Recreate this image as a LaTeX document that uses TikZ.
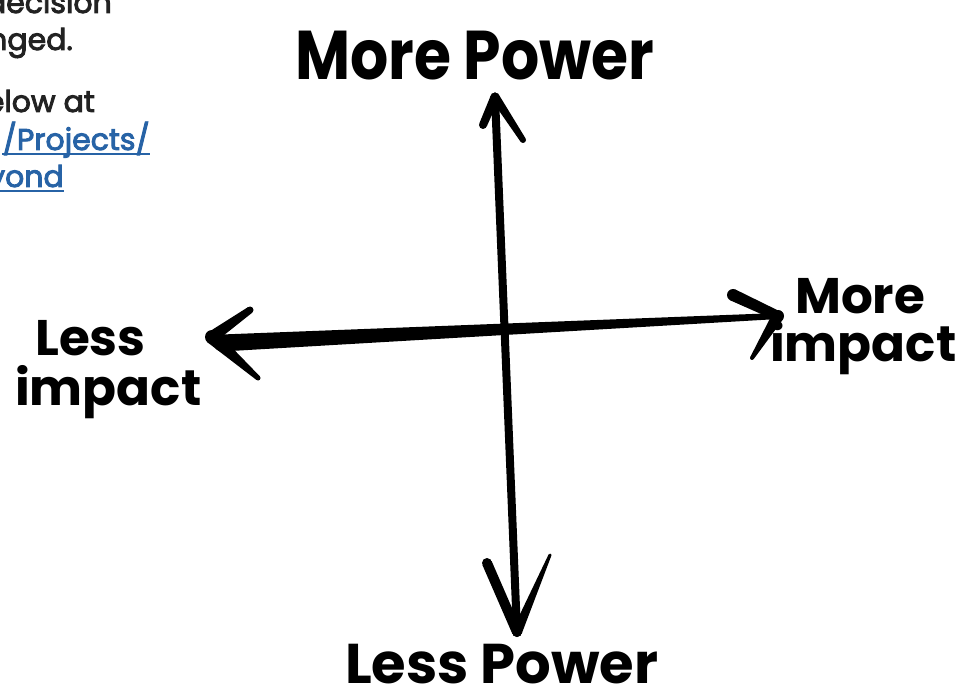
\documentclass[tikz,border=0pt]{standalone}
\usepackage{fontspec}
\usepackage{graphicx}
\setmainfont{Poppins}
\usetikzlibrary{calc}
\definecolor{notegray}{HTML}{222222}
\definecolor{linkblue}{HTML}{2763A6}
\newcommand\heavytext[1]{\special{pdf:literal direct 2 Tr 0.9 w}#1\special{pdf:literal direct 0 Tr}}
\newcommand\taperstroke[4]{%
  \fill ($(#1)!#3!90:(#2)$) -- ($(#2)!#4!-90:(#1)$) -- ($(#2)!#4!90:(#1)$) -- ($(#1)!#3!-90:(#2)$) -- cycle;
  \fill (#1) circle (#3);
  \fill (#2) circle (#4);}
\tikzset{
  note/.style={font=\fontsize{30}{30}\selectfont, text=notegray, inner sep=0pt, anchor=base east},
  link/.style={note, text=linkblue},
  linkline/.style={draw=linkblue, line width=1.8pt},
  hand/.style={inner sep=0pt, anchor=base west, text=black},
  shaft/.style={line width=8pt, line cap=round}
}
\begin{document}
\begin{tikzpicture}[x=1pt,y=-1pt]
\useasboundingbox (0,0) rectangle (958,692);
\clip (0,0) rectangle (958,692);
\fill[white] (0,0) rectangle (958,692);

% partial text at top-left
\node[note] (t1) at (112,13) {\heavytext{decision}};
\node[note] (t2) at (73,50) {\heavytext{changed.}};
\node[note] (t3) at (95,112) {\heavytext{below at}};
\node[link] (t4) at (150,150) {\heavytext{/Projects/}};
\node[link] (t5) at (64,187) {\heavytext{beyond}};
\draw[linkline] ($(t4.base west)+(0,4)$) -- ($(t4.base east)+(0,4)$);
\draw[linkline] ($(t5.base west)+(0,4)$) -- ($(t5.base east)+(0,4)$);

% labels
\node[hand, font=\fontsize{60}{60}\selectfont\bfseries] (mp) at (295,80) {\scalebox{1}[1.15]{More Power}};
\node[hand, font=\fontsize{56}{56}\selectfont\bfseries] (lp) at (345,683) {Less Power};
\node[hand, font=\fontsize{50}{50}\selectfont\bfseries, align=left] (li) at (15,405) {\hspace*{20pt}Less\\impact};
\node[hand, font=\fontsize{50}{48}\selectfont\bfseries, align=left] (ri) at (770,362) {\hspace*{25pt}More\\impact};

% axis end points
\coordinate (T) at (495,97);
\coordinate (B) at (517,632);
\coordinate (L) at (212,337);
\coordinate (Ls) at (222,343);
\coordinate (R) at (778,316);
\coordinate (lu) at (250,310);
\coordinate (ld) at (258,378);
\coordinate (ru) at (733,295);
\coordinate (rd) at (752,358);
\coordinate (tl) at (483,125);
\coordinate (tr) at (523,140);
\coordinate (bl) at (487,563);
\coordinate (br) at (550,555);

% axes
\draw[shaft] (T) -- (B);
\taperstroke{Ls}{R}{8.5pt}{3pt}
\taperstroke{L}{lu}{6pt}{3.5pt}
\taperstroke{L}{ld}{7pt}{2.5pt}
\taperstroke{ru}{R}{6pt}{5pt}
\taperstroke{R}{rd}{6pt}{2pt}
\taperstroke{T}{tl}{4.5pt}{4pt}
\taperstroke{T}{tr}{4.5pt}{3pt}
\taperstroke{bl}{B}{5pt}{5pt}
\taperstroke{B}{br}{5pt}{1.5pt}
\end{tikzpicture}
\end{document}
